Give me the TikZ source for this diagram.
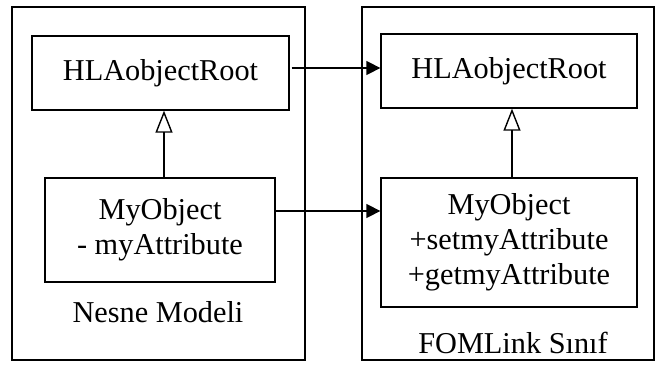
\documentclass[tikz,border=0pt]{standalone}
\usepackage{fontspec}
\setmainfont{Liberation Serif}
\usetikzlibrary{arrows.meta}
\begin{document}
\begin{tikzpicture}[x=1pt,y=-1pt,
  every node/.style={font=\fontsize{30.3}{35}\selectfont},
  frame/.style={draw,line width=1.5pt,rectangle,inner sep=0pt},
  classbox/.style={draw,line width=1.3pt,rectangle,inner sep=0pt,align=center},
  link/.style={line width=1.4pt,-{Triangle[length=14pt,width=14pt]}},
  inherit/.style={line width=1.4pt,-{Triangle[open,length=22pt,width=17pt,fill=white]}}]
\useasboundingbox (0,0) rectangle (656,369);
% package frames
\node[frame,minimum width=293pt,minimum height=353pt] (lframe) at (158.5,183.5) {};
\node[frame,minimum width=292pt,minimum height=353pt] (rframe) at (508,183.5) {};
% left model
\node[classbox,minimum width=257pt,minimum height=74pt] (lhla) at (160.5,73) {HLAobjectRoot};
\node[classbox,minimum width=230pt,minimum height=104pt] (lobj) at (160,230) {MyObject\\- myAttribute};
\node (lcap) at (158,312) {Nesne Modeli};
% right model
\node[classbox,minimum width=256pt,minimum height=74pt] (rhla) at (509,71) {HLAobjectRoot};
\node[classbox,minimum width=256pt,minimum height=129pt] (robj) at (509,242.5) {MyObject\\+setmyAttribute\\+getmyAttribute};
\node (rcap) at (513,343) {FOMLink Sınıf};
% generalisation
\draw[inherit] (lobj.north -| 164,0) -- (lhla.south -| 164,0);
\draw[inherit] (robj.north -| 512,0) -- (rhla.south -| 512,0);
% mapping links
\draw[link] ([xshift=2pt]lhla.east |- 0,68) -- (rhla.west |- 0,68);
\draw[link] (lobj.east |- 0,211) -- (robj.west |- 0,211);
\end{tikzpicture}
\end{document}
